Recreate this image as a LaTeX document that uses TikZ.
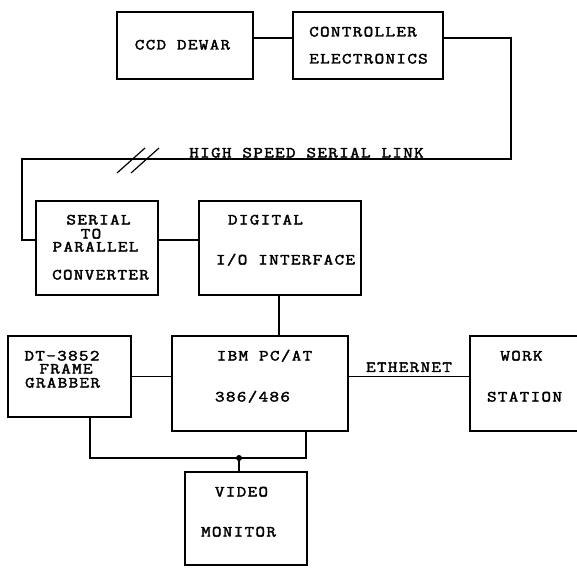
\documentclass[tikz,border=0pt]{standalone}
\usepackage{fontspec}
\setmonofont{Latin Modern Mono}[FakeStretch=1.2,LetterSpace=8.5,FakeBold=2.4]

\begin{document}
\begin{tikzpicture}[x=1pt,y=-1pt,
    box/.style={draw,line width=1.2pt,inner sep=0pt},
    wire/.style={line width=1.2pt},
    lbl/.style={font=\ttfamily\fontsize{15.5}{15.5}\selectfont,
      inner sep=0pt,text height=9pt,text depth=0pt}]
  \useasboundingbox (0,0) rectangle (577,567);
  % blocks
  \node[box,minimum width=136pt,minimum height=67pt] (dewar) at (185,45.5) {};
  \node[box,minimum width=150pt,minimum height=67pt] (ctrl) at (368,45.5) {};
  \node[box,minimum width=122pt,minimum height=94pt] (s2p) at (97,248) {};
  \node[box,minimum width=162pt,minimum height=94pt] (dio) at (280,248) {};
  \node[box,minimum width=123pt,minimum height=81pt] (grab) at (69.5,376.5) {};
  \node[box,minimum width=176pt,minimum height=95pt] (pc) at (260,383.5) {};
  \node[box,minimum width=130pt,minimum height=95pt] (ws) at (535,383.5) {};
  \node[box,minimum width=122pt,minimum height=93pt] (mon) at (246,518.5) {};
  % texts
  \node[lbl] (dewar-t) at (182.5,45) {CCD DEWAR};
  \node[lbl] (ctrl-t1) at (363,32) {CONTROLLER};
  \node[lbl] (ctrl-t2) at (368.5,59) {ELECTRONICS};
  \node[lbl] (s2p-t1) at (98.5,220) {SERIAL};
  \node[lbl] (s2p-t2) at (91,234) {TO};
  \node[lbl] (s2p-t3) at (95.5,247) {PARALLEL};
  \node[lbl] (s2p-t4) at (100.5,275) {CONVERTER};
  \node[lbl] (dio-t1) at (265.5,220) {DIGITAL};
  \node[lbl] (dio-t2) at (285.5,260) {I/O INTERFACE};
  \node[lbl] (grab-t1) at (62,356) {DT-3852};
  \node[lbl] (grab-t2) at (66,369) {FRAME};
  \node[lbl] (grab-t3) at (62.5,383) {GRABBER};
  \node[lbl] (pc-t1) at (264.5,356) {IBM PC/AT};
  \node[lbl] (pc-t2) at (252.5,397) {386/486};
  \node[lbl] (ws-t1) at (521.5,356) {WORK};
  \node[lbl] (ws-t2) at (524.5,397) {STATION};
  \node[lbl] (mon-t1) at (241.5,492) {VIDEO};
  \node[lbl] (mon-t2) at (238.5,532) {MONITOR};
  \node[lbl] (link-t) at (306.5,153) {HIGH SPEED SERIAL LINK};
  % connections
  \coordinate (hs-r) at (511,159);
  \coordinate (hs-l) at (22,159);
  \coordinate (tap) at (239,458);
  \coordinate (bus-r) at ([xshift=46pt]pc.south);
  \coordinate (bus-l) at ([xshift=20.5pt]grab.south);
  \draw[wire] ([yshift=7.5pt]dewar.east) -- ([yshift=7.5pt]ctrl.west);
  \draw[wire] ([yshift=7.5pt]ctrl.east) -| (hs-r) -- (hs-l) |- ([yshift=8pt]s2p.west);
  \draw[wire] (117,173) -- (145,148) (131,173) -- (159,148);
  \draw[wire] ([yshift=8pt]s2p.east) -- ([yshift=8pt]dio.west);
  \draw[wire] ([xshift=-1pt]dio.south) -- ([xshift=19pt]pc.north);
  \draw[wire] (grab.east) -- (grab.east -| pc.west);
  \draw[wire] (grab.east -| pc.east) -- node[lbl,above=4pt] (eth-t) {ETHERNET} (grab.east -| ws.west);
  \draw[wire] (bus-l) |- (tap) -| (bus-r);
  \draw[wire] (tap) -- (tap |- mon.north);
  \fill (tap) circle (3pt);
\end{tikzpicture}
\end{document}
